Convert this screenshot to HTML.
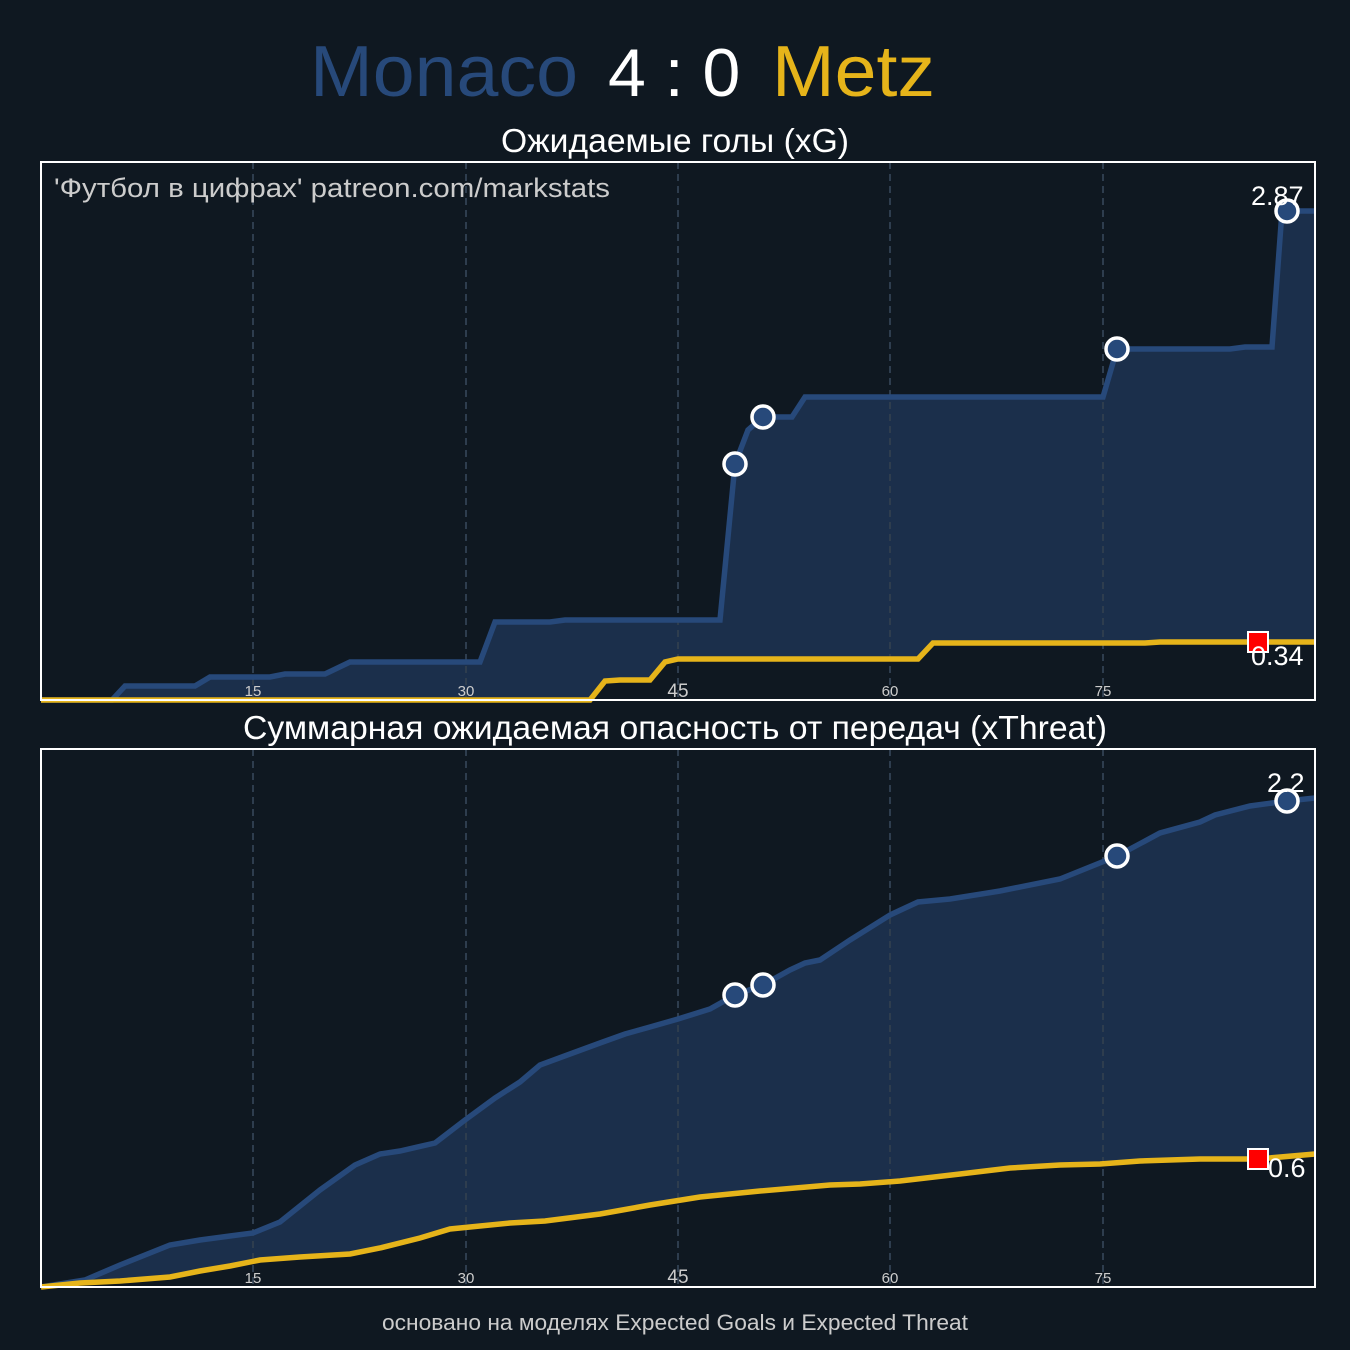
<!DOCTYPE html>
<html><head><meta charset="utf-8"><style>
body{margin:0;background:#0f1821;}
svg{display:block}
text{font-family:"Liberation Sans",sans-serif}
</style></head><body>
<svg width="1350" height="1350" viewBox="0 0 1350 1350">
<rect width="1350" height="1350" fill="#0f1821"/>
<text x="310" y="96" font-size="72" fill="#27497a" textLength="268" lengthAdjust="spacingAndGlyphs">Monaco</text>
<text x="608" y="96" font-size="68" fill="#fff">4 : 0</text>
<text x="772" y="96" font-size="72" fill="#e6b41a" textLength="163" lengthAdjust="spacingAndGlyphs">Metz</text>
<text x="675" y="152" font-size="33" fill="#fff" text-anchor="middle" textLength="348" lengthAdjust="spacingAndGlyphs">Ожидаемые голы (xG)</text>
<text x="675" y="739" font-size="33" fill="#fff" text-anchor="middle" textLength="864" lengthAdjust="spacingAndGlyphs">Суммарная ожидаемая опасность от передач (xThreat)</text>
<text x="675" y="1330" font-size="22" fill="#ccc" text-anchor="middle" textLength="586" lengthAdjust="spacingAndGlyphs">основано на моделях Expected Goals и Expected Threat</text>
<polygon fill="#1b2f4b" points="41,700 112,700 125,686 195,686 210,677 270,677 285,674 325,674 350,662 480,662 495,622 550,622 565,620 720,620 735,464 748,430 763,417 792,417 805,397 1103,397 1117,349 1230,349 1245,347 1272,347 1282,211 1315,211 1315,642 1160,642 1145,643 933,643 918,659 678,659 665,662 650,680 620,680 605,681 590,700"/>
<polygon fill="#1b2f4b" points="41,1287 85,1280 120,1265 145,1255 170,1245 200,1240 230,1236 253,1233 280,1222 320,1190 355,1165 380,1154 400,1151 435,1143 465,1120 495,1098 520,1082 540,1065 570,1054 600,1043 625,1034 650,1027 678,1019 710,1009 735,995 763,985 790,970 805,963 820,960 850,940 890,915 918,902 950,899 1000,891 1060,879 1117,856 1160,833 1200,822 1215,815 1250,806 1287,801 1315,798 1315,1154 1258,1159 1200,1159 1140,1161 1100,1164 1060,1165 1010,1168 960,1174 900,1181 860,1184 830,1185 760,1191 740,1193 700,1197 650,1205 600,1214 545,1221 510,1223 470,1227 450,1229 420,1238 380,1248 350,1254 300,1257 260,1260 230,1266 200,1271 170,1277 120,1281 80,1283"/>
<g stroke="#2e3d4e" stroke-width="2" stroke-dasharray="7,5">
<line x1="253" y1="162" x2="253" y2="700"/><line x1="466" y1="162" x2="466" y2="700"/><line x1="678" y1="162" x2="678" y2="700"/><line x1="890" y1="162" x2="890" y2="700"/><line x1="1103" y1="162" x2="1103" y2="700"/>
<line x1="253" y1="749" x2="253" y2="1287"/><line x1="466" y1="749" x2="466" y2="1287"/><line x1="678" y1="749" x2="678" y2="1287"/><line x1="890" y1="749" x2="890" y2="1287"/><line x1="1103" y1="749" x2="1103" y2="1287"/>
</g>
<g fill="#ccc" font-size="15" text-anchor="middle">
<text x="253" y="696">15</text><text x="466" y="696">30</text><text x="678" y="697" font-size="19">45</text><text x="890" y="696">60</text><text x="1103" y="696">75</text>
<text x="253" y="1283">15</text><text x="466" y="1283">30</text><text x="678" y="1283" font-size="19">45</text><text x="890" y="1283">60</text><text x="1103" y="1283">75</text>
</g>
<polyline fill="none" stroke="#27497a" stroke-width="5.5" points="41,700 112,700 125,686 195,686 210,677 270,677 285,674 325,674 350,662 480,662 495,622 550,622 565,620 720,620 735,464 748,430 763,417 792,417 805,397 1103,397 1117,349 1230,349 1245,347 1272,347 1282,211 1315,211"/>
<polyline fill="none" stroke="#e6b41a" stroke-width="5.5" points="41,700 590,700 605,681 620,680 650,680 665,662 678,659 918,659 933,643 1145,643 1160,642 1315,642"/>
<polyline fill="none" stroke="#27497a" stroke-width="5.5" points="41,1287 85,1280 120,1265 145,1255 170,1245 200,1240 230,1236 253,1233 280,1222 320,1190 355,1165 380,1154 400,1151 435,1143 465,1120 495,1098 520,1082 540,1065 570,1054 600,1043 625,1034 650,1027 678,1019 710,1009 735,995 763,985 790,970 805,963 820,960 850,940 890,915 918,902 950,899 1000,891 1060,879 1117,856 1160,833 1200,822 1215,815 1250,806 1287,801 1315,798"/>
<polyline fill="none" stroke="#e6b41a" stroke-width="5.5" points="41,1287 80,1283 120,1281 170,1277 200,1271 230,1266 260,1260 300,1257 350,1254 380,1248 420,1238 450,1229 470,1227 510,1223 545,1221 600,1214 650,1205 700,1197 740,1193 760,1191 830,1185 860,1184 900,1181 960,1174 1010,1168 1060,1165 1100,1164 1140,1161 1200,1159 1258,1159 1315,1154"/>
<rect x="41" y="162" width="1274" height="538" fill="none" stroke="#fff" stroke-width="2"/>
<rect x="41" y="749" width="1274" height="538" fill="none" stroke="#fff" stroke-width="2"/>
<text x="54" y="197" font-size="27" fill="#ccc" textLength="556" lengthAdjust="spacingAndGlyphs">'Футбол в цифрах' patreon.com/markstats</text>
<g fill="#27497a" stroke="#fff" stroke-width="3.5">
<circle cx="735" cy="464" r="11"/><circle cx="763" cy="417" r="11"/><circle cx="1117" cy="349" r="11"/><circle cx="1287" cy="211" r="11"/>
<circle cx="735" cy="995" r="11"/><circle cx="763" cy="985" r="11"/><circle cx="1117" cy="856" r="11"/><circle cx="1287" cy="801" r="11"/>
</g>
<rect x="1248" y="632" width="20" height="20" fill="#f00" stroke="#fff" stroke-width="2"/>
<rect x="1248" y="1149" width="20" height="20" fill="#f00" stroke="#fff" stroke-width="2"/>
<g fill="#fff" font-size="27">
<text x="1251" y="205">2.87</text><text x="1251" y="665">0.34</text>
<text x="1267" y="792">2.2</text><text x="1268" y="1177">0.6</text>
</g>
</svg>
</body></html>
